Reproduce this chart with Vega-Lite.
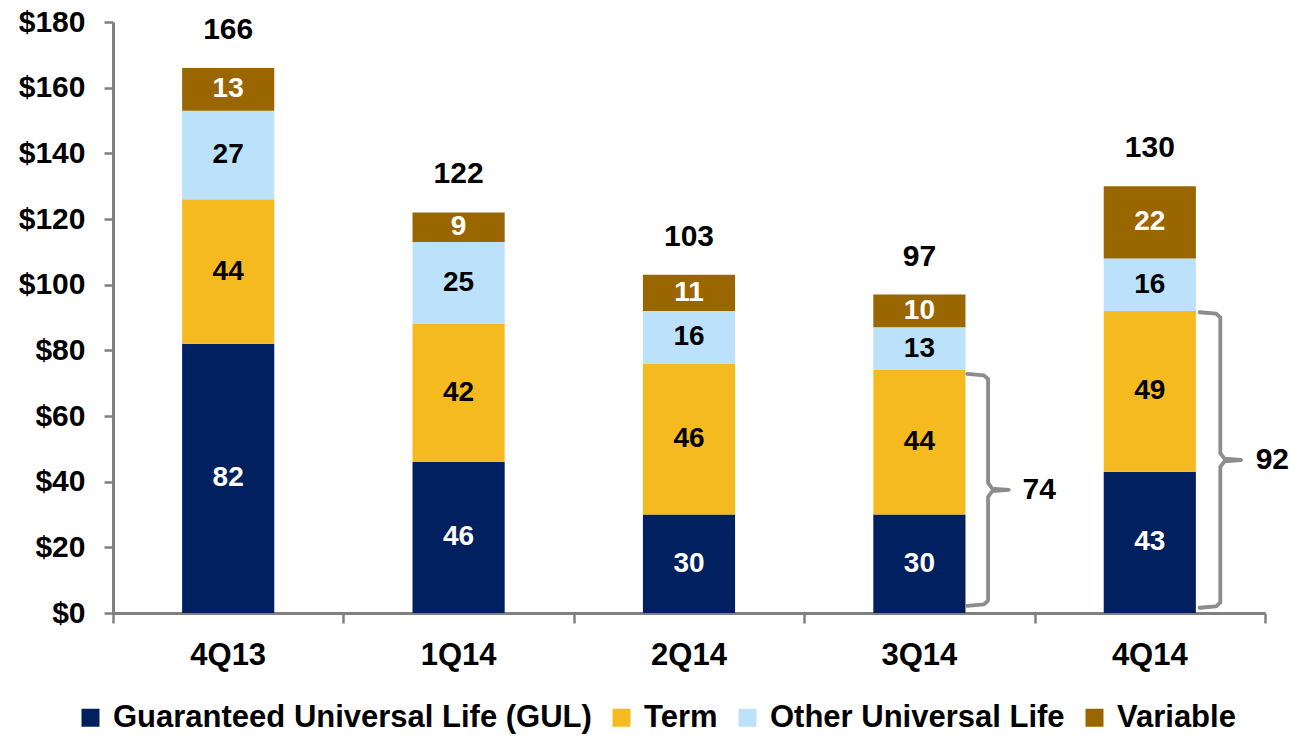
{
  "$schema": "https://vega.github.io/schema/vega-lite/v6.json",
  "width": 1152,
  "height": 591,
  "autosize": {"type": "none"},
  "padding": {"left": 113, "top": 22, "right": 24, "bottom": 126},
  "background": "white",
  "config": {
    "view": {"stroke": null},
    "font": "Liberation Sans",
    "axis": {"labelFont": "Liberation Sans", "labelFontWeight": "bold", "labelColor": "black", "domainColor": "#808080", "tickColor": "#808080", "domainWidth": 3, "tickWidth": 2.5, "grid": false, "title": null}
  },
  "datasets": {
    "sales": [
      {"quarter": "4Q13", "product": "Guaranteed Universal Life (GUL)", "ord": 1, "value": 82},
      {"quarter": "4Q13", "product": "Term", "ord": 2, "value": 44},
      {"quarter": "4Q13", "product": "Other Universal Life", "ord": 3, "value": 27},
      {"quarter": "4Q13", "product": "Variable", "ord": 4, "value": 13},
      {"quarter": "1Q14", "product": "Guaranteed Universal Life (GUL)", "ord": 1, "value": 46},
      {"quarter": "1Q14", "product": "Term", "ord": 2, "value": 42},
      {"quarter": "1Q14", "product": "Other Universal Life", "ord": 3, "value": 25},
      {"quarter": "1Q14", "product": "Variable", "ord": 4, "value": 9},
      {"quarter": "2Q14", "product": "Guaranteed Universal Life (GUL)", "ord": 1, "value": 30},
      {"quarter": "2Q14", "product": "Term", "ord": 2, "value": 46},
      {"quarter": "2Q14", "product": "Other Universal Life", "ord": 3, "value": 16},
      {"quarter": "2Q14", "product": "Variable", "ord": 4, "value": 11},
      {"quarter": "3Q14", "product": "Guaranteed Universal Life (GUL)", "ord": 1, "value": 30},
      {"quarter": "3Q14", "product": "Term", "ord": 2, "value": 44},
      {"quarter": "3Q14", "product": "Other Universal Life", "ord": 3, "value": 13},
      {"quarter": "3Q14", "product": "Variable", "ord": 4, "value": 10},
      {"quarter": "4Q14", "product": "Guaranteed Universal Life (GUL)", "ord": 1, "value": 43},
      {"quarter": "4Q14", "product": "Term", "ord": 2, "value": 49},
      {"quarter": "4Q14", "product": "Other Universal Life", "ord": 3, "value": 16},
      {"quarter": "4Q14", "product": "Variable", "ord": 4, "value": 22}
    ],
    "braces": [
      {"quarter": "3Q14", "i": 1, "pos": 3.708, "v": 72.8},
      {"quarter": "3Q14", "i": 2, "pos": 3.78, "v": 72.4},
      {"quarter": "3Q14", "i": 3, "pos": 3.798, "v": 71.2},
      {"quarter": "3Q14", "i": 4, "pos": 3.798, "v": 39.6},
      {"quarter": "3Q14", "i": 5, "pos": 3.816, "v": 37.9},
      {"quarter": "3Q14", "i": 6, "pos": 3.888, "v": 37.5},
      {"quarter": "3Q14", "i": 7, "pos": 3.816, "v": 37.1},
      {"quarter": "3Q14", "i": 8, "pos": 3.798, "v": 35.4},
      {"quarter": "3Q14", "i": 9, "pos": 3.798, "v": 3.8},
      {"quarter": "3Q14", "i": 10, "pos": 3.78, "v": 2.6},
      {"quarter": "3Q14", "i": 11, "pos": 3.708, "v": 2.2},
      {"quarter": "4Q14", "i": 1, "pos": 4.716, "v": 91.6},
      {"quarter": "4Q14", "i": 2, "pos": 4.788, "v": 91.2},
      {"quarter": "4Q14", "i": 3, "pos": 4.806, "v": 90.0},
      {"quarter": "4Q14", "i": 4, "pos": 4.806, "v": 48.7},
      {"quarter": "4Q14", "i": 5, "pos": 4.824, "v": 47.0},
      {"quarter": "4Q14", "i": 6, "pos": 4.896, "v": 46.6},
      {"quarter": "4Q14", "i": 7, "pos": 4.824, "v": 46.2},
      {"quarter": "4Q14", "i": 8, "pos": 4.806, "v": 44.5},
      {"quarter": "4Q14", "i": 9, "pos": 4.806, "v": 3.2},
      {"quarter": "4Q14", "i": 10, "pos": 4.788, "v": 2.0},
      {"quarter": "4Q14", "i": 11, "pos": 4.716, "v": 1.6}
    ],
    "braceLabels": [
      {"quarter": "3Q14", "pos": 4.02, "v": 37.5, "label": "74"},
      {"quarter": "4Q14", "pos": 5.032, "v": 46.6, "label": "92"}
    ]
  },
  "resolve": {"scale": {"x": "independent"}, "axis": {"x": "independent"}},
  "layer": [
    {
      "layer": [
        {
          "data": {"name": "sales"},
          "transform": [
            {"stack": "value", "groupby": ["quarter"], "sort": [{"field": "ord"}], "as": ["y0", "y1"]}
          ],
          "mark": {"type": "bar"},
          "encoding": {
            "x": {"field": "quarter", "type": "nominal", "sort": ["4Q13", "1Q14", "2Q14", "3Q14", "4Q14"],
              "scale": {"paddingInner": 0.6, "paddingOuter": 0.3},
              "axis": {"orient": "bottom", "labelAngle": 0, "labelFontSize": 31, "ticks": false, "labelPadding": 27}},
            "y": {"field": "y1", "type": "quantitative", "scale": {"domain": [0, 180], "nice": false},
              "axis": {"values": [0, 20, 40, 60, 80, 100, 120, 140, 160, 180], "labelExpr": "'$' + datum.value", "labelFontSize": 30, "tickSize": 9, "labelPadding": 19}},
            "y2": {"field": "y0"},
            "color": {"field": "product", "type": "nominal",
              "scale": {"domain": ["Guaranteed Universal Life (GUL)", "Term", "Other Universal Life", "Variable"], "range": ["#002060", "#F4BA1F", "#BBE2FA", "#9A6600"]},
              "legend": {"orient": "none", "direction": "horizontal", "legendX": -38, "legendY": 680, "title": null,
                "symbolType": "square", "symbolSize": 324, "symbolStrokeWidth": 0, "labelFontSize": 31, "labelFontWeight": "bold", "labelColor": "black", "labelFont": "Liberation Sans", "labelOffset": 7, "columnPadding": 14, "labelLimit": 800}}
          }
        },
        {
          "data": {"name": "sales"},
          "transform": [
            {"stack": "value", "groupby": ["quarter"], "sort": [{"field": "ord"}], "as": ["y0", "y1"]},
            {"calculate": "(datum.y0 + datum.y1) / 2", "as": "mid"}
          ],
          "mark": {"type": "text", "fontSize": 28, "fontWeight": "bold", "baseline": "middle", "align": "center"},
          "encoding": {
            "x": {"field": "quarter", "type": "nominal", "sort": ["4Q13", "1Q14", "2Q14", "3Q14", "4Q14"]},
            "y": {"field": "mid", "type": "quantitative"},
            "text": {"field": "value", "type": "quantitative"},
            "color": {"condition": {"test": "datum.ord == 1 || datum.ord == 4", "value": "white"}, "value": "black"}
          }
        },
        {
          "data": {"name": "sales"},
          "transform": [
            {"aggregate": [{"op": "sum", "field": "value", "as": "total"}], "groupby": ["quarter"]}
          ],
          "mark": {"type": "text", "fontSize": 30, "fontWeight": "bold", "baseline": "middle", "align": "center", "dy": -38, "color": "black"},
          "encoding": {
            "x": {"field": "quarter", "type": "nominal", "sort": ["4Q13", "1Q14", "2Q14", "3Q14", "4Q14"]},
            "y": {"field": "total", "type": "quantitative"},
            "text": {"field": "total", "type": "quantitative"}
          }
        }
      ]
    },
    {
      "layer": [
        {
          "data": {"name": "braces"},
          "mark": {"type": "line", "color": "#8C8C8C", "strokeWidth": 3.8, "strokeJoin": "round", "strokeCap": "round"},
          "encoding": {
            "x": {"field": "pos", "type": "quantitative", "scale": {"domain": [0, 5], "nice": false, "zero": false},
              "axis": {"orient": "bottom", "values": [0, 1, 2, 3, 4, 5], "labels": false, "domain": false, "ticks": true, "tickSize": 10, "tickWidth": 2.5}},
            "y": {"field": "v", "type": "quantitative"},
            "detail": {"field": "quarter"},
            "order": {"field": "i", "type": "quantitative"}
          }
        },
        {
          "data": {"name": "braceLabels"},
          "mark": {"type": "text", "fontSize": 30, "fontWeight": "bold", "baseline": "middle", "align": "center", "color": "black"},
          "encoding": {
            "x": {"field": "pos", "type": "quantitative"},
            "y": {"field": "v", "type": "quantitative"},
            "text": {"field": "label"}
          }
        }
      ]
    }
  ]
}
